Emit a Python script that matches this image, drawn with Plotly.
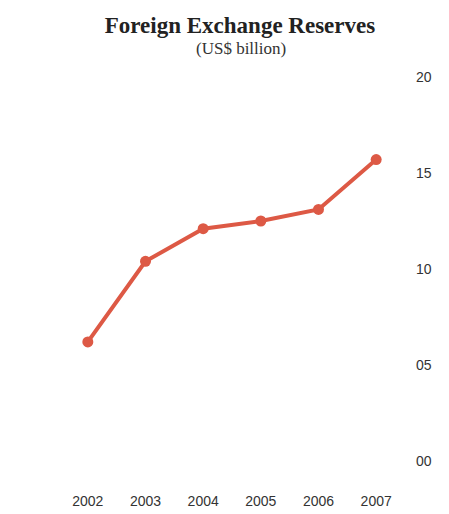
import plotly.graph_objects as go

# Foreign exchange reserves, US$ billion
years = ["2002", "2003", "2004", "2005", "2006", "2007"]
reserves = [6.2, 10.4, 12.1, 12.5, 13.1, 15.7]

y_ticks = [0, 5, 10, 15, 20]
y_tick_labels = ["00", "05", "10", "15", "20"]

line_color = "#dd5945"
text_color = "#333333"

W, H = 449, 514
ML, MR, MT, MB = 59, 44, 77, 53

fig = go.Figure(
    go.Scatter(
        x=list(range(len(years))),
        y=reserves,
        mode="lines+markers",
        line=dict(color=line_color, width=4),
        marker=dict(color=line_color, size=11),
        cliponaxis=False,
        hoverinfo="skip",
    )
)

fig.update_layout(
    width=W,
    height=H,
    margin=dict(l=ML, r=MR, t=MT, b=MB, autoexpand=False),
    paper_bgcolor="white",
    plot_bgcolor="white",
    showlegend=False,
    title=dict(
        text="<b>Foreign Exchange Reserves</b>",
        x=240 / W,
        xanchor="center",
        xref="container",
        y=1 - 25 / H,
        yanchor="middle",
        yref="container",
        font=dict(family="Liberation Serif", size=23, color="#222222"),
    ),
    annotations=[
        dict(
            text="(US$ billion)",
            x=(241 - ML) / (W - ML - MR),
            xref="paper",
            y=(H - MB - 49) / (H - MB - MT),
            yref="paper",
            showarrow=False,
            font=dict(family="Liberation Serif", size=17, color="#333333"),
            xanchor="center",
            yanchor="middle",
        )
    ],
    xaxis=dict(
        range=[-0.5, 5.5],
        tickvals=list(range(len(years))),
        ticktext=years,
        showgrid=False,
        zeroline=False,
        showline=False,
        ticks="",
        automargin=False,
        ticklabelstandoff=30,
        tickfont=dict(family="Liberation Sans", size=14, color=text_color),
    ),
    yaxis=dict(
        range=[0, 20],
        side="right",
        tickvals=y_ticks,
        ticktext=y_tick_labels,
        showgrid=False,
        zeroline=False,
        showline=False,
        ticks="",
        automargin=False,
        ticklabelstandoff=10,
        tickfont=dict(family="Liberation Sans", size=14, color=text_color),
    ),
)

fig.write_html("out.html")
